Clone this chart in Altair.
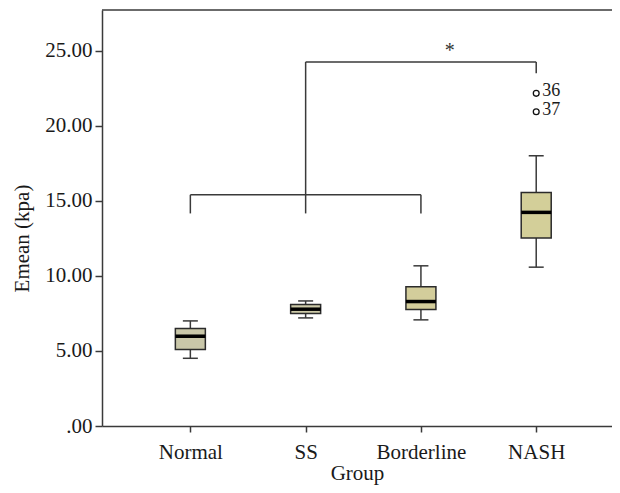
import altair as alt
import pandas as pd

# ---- data ----
groups = ["Normal", "SS", "Borderline", "NASH"]
group_pos = [0, 1, 2, 3]
whisker_low = [4.51, 7.20, 7.07, 10.58]
q1 = [5.09, 7.49, 7.76, 12.53]
median = [5.98, 7.78, 8.29, 14.23]
q3 = [6.49, 8.09, 9.27, 15.56]
whisker_high = [7.00, 8.33, 10.67, 18.00]

outlier_pos = [3, 3]
outlier_value = [22.16, 20.93]
outlier_label = ["36", "37"]

y_ticks = [0, 5, 10, 15, 20, 25]

# significance bracket segments (x from, x to, y from, y to) in data units
seg_x = [0, 0, 2, 1, 1, 3]
seg_x2 = [2, 0, 2, 1, 3, 3]
seg_y = [15.4, 15.4, 15.4, 14.16, 24.25, 24.25]
seg_y2 = [15.4, 14.16, 14.16, 24.25, 24.25, 23.5]
star_x = [2.25]
star_y = [24.6]
star_text = ["*"]

fill_colors = ["#c9c7a9", "#cdcaa8", "#d3cd9b", "#d3cf99"]

FONT = "Liberation Serif"
W, H = 510, 416

box_df = pd.DataFrame({
    "group": groups, "pos": group_pos, "lo": whisker_low, "q1": q1,
    "med": median, "q3": q3, "hi": whisker_high,
})
out_df = pd.DataFrame({"pos": outlier_pos, "val": outlier_value, "lab": outlier_label})
seg_df = pd.DataFrame({"x": seg_x, "x2": seg_x2, "y": seg_y, "y2": seg_y2})
star_df = pd.DataFrame({"x": star_x, "y": star_y, "t": star_text})

label_map = "{" + ",".join(f"'{p}':'{g}'" for p, g in zip(group_pos, groups)) + "}"

x_scale = alt.Scale(domain=[-0.723, 3.614], nice=False, zero=False)
y_scale = alt.Scale(domain=[0, 27.71], nice=False, zero=True)

x_enc = alt.X(
    "pos:Q", scale=x_scale,
    axis=alt.Axis(
        values=group_pos, grid=False, title="Group",
        labelExpr=label_map + "[datum.value]",
        labelFont=FONT, labelFontSize=21, labelColor="#1a1a1a", labelPadding=9,
        labelFlush=False, labelOverlap=False,
        titleFont=FONT, titleFontSize=21, titleFontWeight="normal", titleColor="#1a1a1a",
        titleY=53, titleBaseline="alphabetic",
        tickSize=6, tickWidth=1.5, tickColor="#3a3a3a",
        domainColor="#3a3a3a", domainWidth=1.5,
    ),
)
y_axis = alt.Axis(
    values=y_ticks, grid=False, title="Emean (kpa)",
    labelExpr="datum.value == 0 ? '.00' : format(datum.value, '.2f')",
    labelFont=FONT, labelFontSize=21, labelColor="#1a1a1a", labelPadding=3,
    titleFont=FONT, titleFontSize=21, titleFontWeight="normal", titleColor="#1a1a1a",
    titleX=-80, titleY=228, titleBaseline="middle", titleAngle=-90, titleAlign="center",
    tickSize=7, tickWidth=1.5, tickColor="#3a3a3a",
    domainColor="#3a3a3a", domainWidth=1.5,
)

base = alt.Chart(box_df)

whisk_lo = base.mark_rule(color="#3a3a3a", strokeWidth=1.5).encode(
    x=x_enc, y=alt.Y("lo:Q", scale=y_scale, axis=y_axis), y2="q1:Q")
whisk_hi = base.mark_rule(color="#3a3a3a", strokeWidth=1.5).encode(
    x="pos:Q", y="q3:Q", y2="hi:Q")
cap_lo = base.mark_tick(orient="horizontal", size=15, thickness=1.5, color="#3a3a3a", opacity=1).encode(
    x="pos:Q", y="lo:Q")
cap_hi = base.mark_tick(orient="horizontal", size=15, thickness=1.5, color="#3a3a3a", opacity=1).encode(
    x="pos:Q", y="hi:Q")
boxes = base.mark_bar(size=30, stroke="#2b2b2b", strokeWidth=1.5).encode(
    x="pos:Q", y="q1:Q", y2="q3:Q",
    fill=alt.Fill("group:N", scale=alt.Scale(domain=groups, range=fill_colors), legend=None),
)
medians = base.mark_tick(orient="horizontal", size=30, thickness=3.5, color="#000000", opacity=1).encode(
    x="pos:Q", y="med:Q")

outliers = alt.Chart(out_df).mark_point(shape="circle", size=34, filled=False,
                                        stroke="#111111", strokeWidth=1.3, opacity=1).encode(
    x="pos:Q", y="val:Q")
out_labels = alt.Chart(out_df).mark_text(align="left", baseline="middle", dx=6, dy=-2,
                                         font=FONT, fontSize=18, color="#1a1a1a").encode(
    x="pos:Q", y="val:Q", text="lab:N")

segments = alt.Chart(seg_df).mark_rule(color="#3a3a3a", strokeWidth=1.5).encode(
    x="x:Q", x2="x2:Q", y="y:Q", y2="y2:Q")
star = alt.Chart(star_df).mark_text(baseline="alphabetic", align="center",
                                    font=FONT, fontSize=20, color="#333333").encode(
    x="x:Q", y="y:Q", text="t:N")

top_border = alt.Chart(star_df).mark_rule(color="#3a3a3a", strokeWidth=1.5).encode(
    x=alt.value(0), x2=alt.value(W), y=alt.value(0), y2=alt.value(0))

chart = alt.layer(
    whisk_lo, whisk_hi, cap_lo, cap_hi, boxes, medians,
    outliers, out_labels, segments, star, top_border,
).properties(
    width=W, height=H,
    padding={"left": 94, "top": 2, "right": 0, "bottom": 59},
    autosize=alt.AutoSizeParams(type="none"),
    background="white",
).configure_view(stroke="transparent", strokeWidth=0)

chart.save("out.html", embed_options={"renderer": "svg", "actions": False})
